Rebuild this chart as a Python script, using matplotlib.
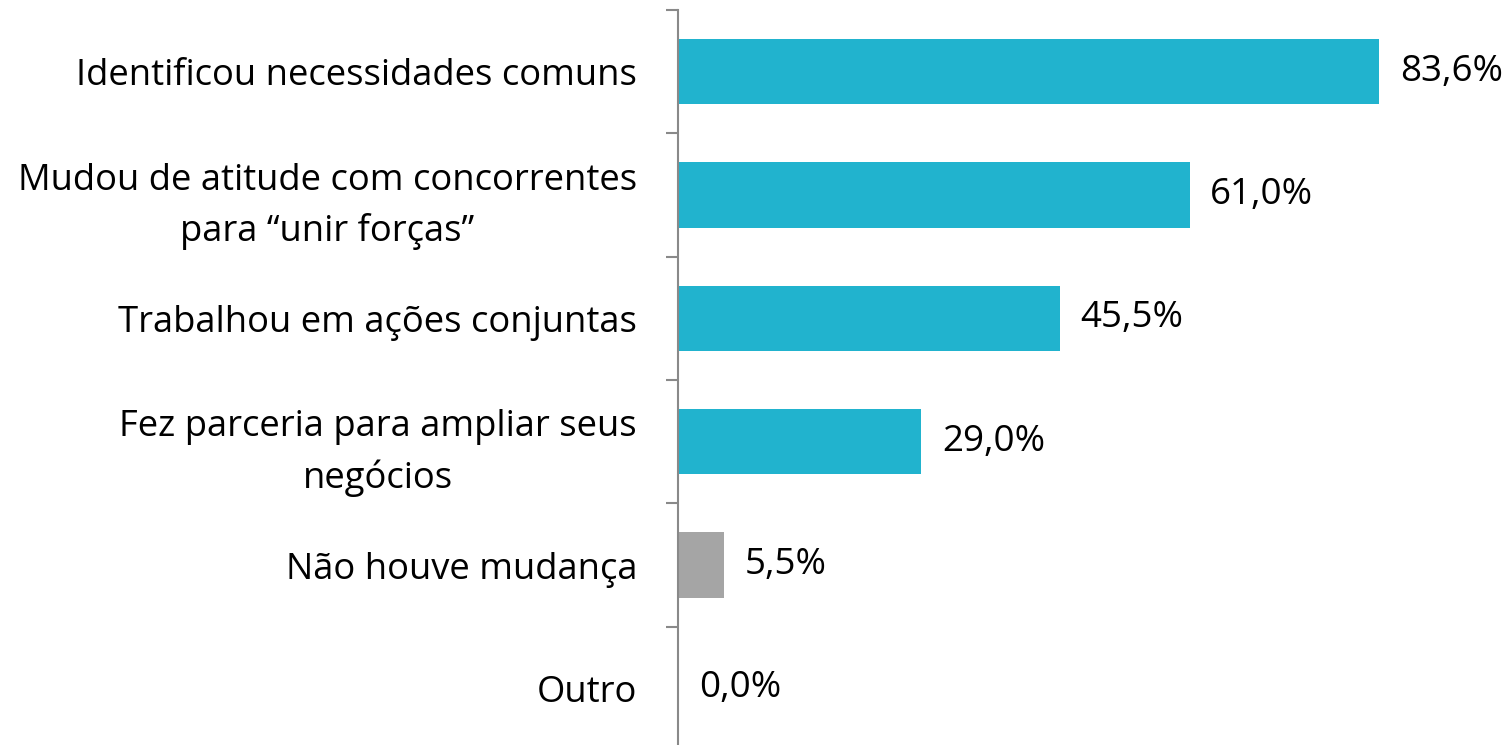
import matplotlib
matplotlib.use("Agg")
import matplotlib.pyplot as plt

categories = [
    "Identificou necessidades comuns",
    "Mudou de atitude com concorrentes\npara \u201cunir for\u00e7as\u201d",
    "Trabalhou em a\u00e7\u00f5es conjuntas",
    "Fez parceria para ampliar seus\nneg\u00f3cios",
    "N\u00e3o houve mudan\u00e7a",
    "Outro",
]
values = [83.6, 61.0, 45.5, 29.0, 5.5, 0.0]
value_labels = ["83,6%", "61,0%", "45,5%", "29,0%", "5,5%", "0,0%"]
bar_colors = ["#21B3CE", "#21B3CE", "#21B3CE", "#21B3CE", "#A5A5A5", "#A5A5A5"]

plt.rcParams['font.family'] = ['Open Sans', 'DejaVu Sans']

W, H = 1508, 745
fig = plt.figure(figsize=(W / 100, H / 100), dpi=100)
ax = fig.add_axes([678 / W, -5 / H, 754.7 / W, 740 / H])

y = list(range(len(categories)))
ax.barh(y, values, height=0.53, color=bar_colors)
ax.set_xlim(0, 90)
ax.set_ylim(len(categories) - 0.5, -0.5)

for yi, v, lab in zip(y, values, value_labels):
    ax.annotate(lab, (v, yi), xytext=(15, 0), textcoords="offset points",
                ha="left", va="center", fontsize=26.5, color="black",
                annotation_clip=False)

ax.set_yticks(y)
ax.set_yticklabels(categories, fontsize=26.2, multialignment="center",
                   linespacing=1.5)
ax.set_yticks([i - 0.5 for i in range(len(categories) + 1)], minor=True)
ax.tick_params(axis="y", which="major", length=0, pad=29 * 0.72 + 8.64)
ax.tick_params(axis="y", which="minor", length=8.64, width=1.5, color="#898989")
ax.set_xticks([])
for s in ["top", "right", "bottom"]:
    ax.spines[s].set_visible(False)
ax.spines["left"].set_color("#898989")
ax.spines["left"].set_linewidth(1.5)

fig.savefig("out.png", dpi=100)
